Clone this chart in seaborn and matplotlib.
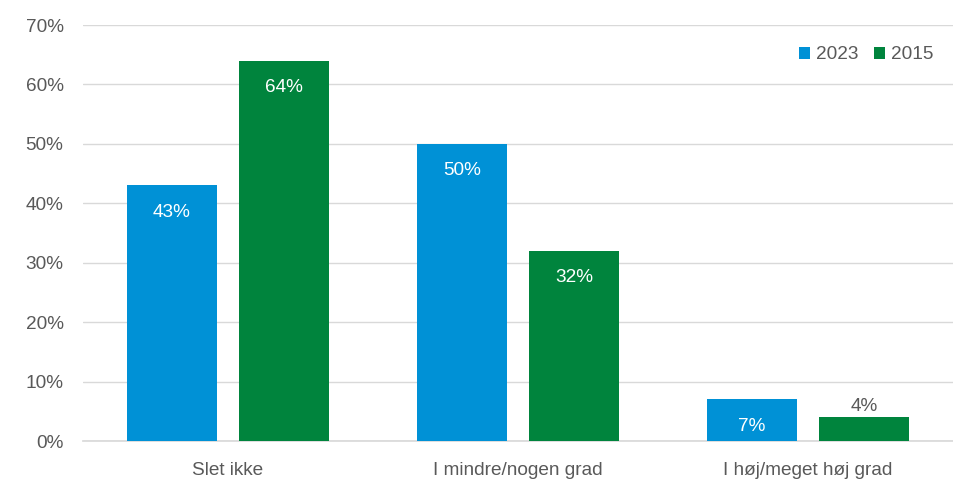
import matplotlib
matplotlib.use("Agg")
import matplotlib.pyplot as plt
import seaborn as sns
import pandas as pd
from matplotlib.ticker import PercentFormatter

categories = ["Slet ikke", "I mindre/nogen grad", "I høj/meget høj grad"]
years = ["2023", "2015"]
values_2023 = [43, 50, 7]
values_2015 = [64, 32, 4]
colors = {"2023": "#0091D6", "2015": "#00843D"}

df = pd.DataFrame({
    "category": categories * 2,
    "year": ["2023"] * 3 + ["2015"] * 3,
    "value": values_2023 + values_2015,
})

sns.set_theme(style="white")
plt.rcParams["font.family"] = ["Liberation Sans", "DejaVu Sans"]
fs = 13.7
text_color = "#595959"

fig = plt.figure(figsize=(9.54, 4.84), dpi=100)
ax = fig.add_axes([83 / 954, (484 - 441) / 484, 870 / 954, (441 - 25) / 484])

sns.barplot(data=df, x="category", y="value", hue="year", hue_order=years,
            palette=colors, width=0.772, gap=0.2, ax=ax, saturation=1,
            legend=True, zorder=3, linewidth=0)

ax.set_ylim(0, 70)
ax.set_yticks(range(0, 71, 10))
ax.yaxis.set_major_formatter(PercentFormatter(decimals=0))
ax.grid(axis="y", color="#d9d9d9", linewidth=1, zorder=0)
ax.set_axisbelow(True)
for s in ["left", "right", "top"]:
    ax.spines[s].set_visible(False)
ax.spines["bottom"].set_color("#d9d9d9")
ax.set_xlabel("")
ax.set_ylabel("")
ax.tick_params(axis="both", colors=text_color, labelsize=fs, length=0)
ax.tick_params(axis="y", pad=14)
ax.tick_params(axis="x", pad=15)

for cont in ax.containers:
    for bar in cont:
        h = bar.get_height()
        xc = bar.get_x() + bar.get_width() / 2
        label = f"{h:.0f}%"
        if h >= 6:
            ax.text(xc, h - 3.1, label, ha="center", va="top", color="white", fontsize=fs)
        else:
            ax.text(xc, h + 0.4, label, ha="center", va="bottom", color=text_color, fontsize=fs)

leg = ax.legend(loc="upper right", bbox_to_anchor=(0.997, 0.99), ncol=2, frameon=False,
                handlelength=0.6, handleheight=0.6, handletextpad=0.3, columnspacing=0.8,
                fontsize=fs)
for t in leg.get_texts():
    t.set_color(text_color)

fig.savefig("out.png", dpi=100)
